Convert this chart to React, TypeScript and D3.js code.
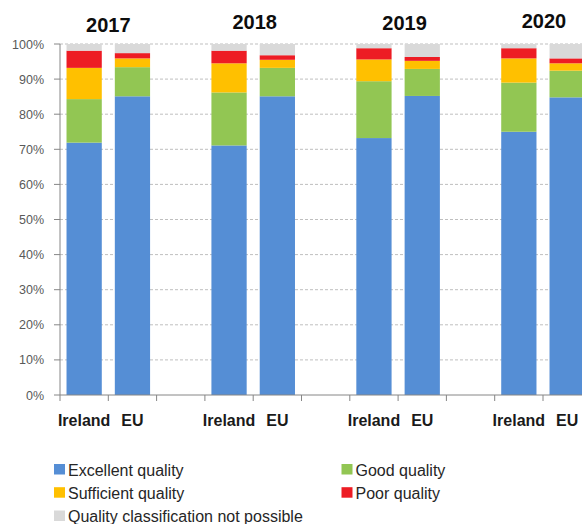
import React from 'react';
import * as d3 from 'd3';

const years = ['2017', '2018', '2019', '2020'];
const groups = ['Ireland', 'EU'];
// order: 2017 Ireland, 2017 EU, 2018 Ireland, 2018 EU, ...
const excellent = [71.9, 85.1, 71.1, 85.1, 73.2, 85.2, 75.0, 84.8];
const good = [12.4, 8.3, 15.1, 8.1, 16.2, 7.7, 14.0, 7.6];
const sufficient = [8.9, 2.5, 8.3, 2.3, 6.2, 2.3, 6.9, 2.1];
const poor = [4.9, 1.5, 3.6, 1.3, 3.2, 1.1, 2.9, 1.4];
const notPossible = [1.9, 2.6, 1.9, 3.2, 1.2, 3.7, 1.2, 4.1];

const seriesNames = ['Excellent quality', 'Good quality', 'Sufficient quality', 'Poor quality', 'Quality classification not possible'];
const seriesKeys = ['excellent', 'good', 'sufficient', 'poor', 'notPossible'];
const seriesColors = ['#558ED5', '#92C653', '#FFC000', '#ED1C24', '#D9D9D9'];
const yTicks = [0, 10, 20, 30, 40, 50, 60, 70, 80, 90, 100];

const W = 582;
const H = 524;
const x0 = 60;
const step = 48.3;
const nCats = 11;
const yBottom = 395;
const yTop = 44;

export default function App() {
  // categories: Ireland, EU, gap, Ireland, EU, gap, ...
  const cats: string[] = [];
  years.forEach((y, i) => {
    groups.forEach((g) => cats.push(`${y}|${g}`));
    if (i < years.length - 1) cats.push(`gap${i}`);
  });

  const rows = years.flatMap((y, yi) =>
    groups.map((g, gi) => {
      const idx = yi * 2 + gi;
      return {
        key: `${y}|${g}`,
        group: g,
        excellent: excellent[idx],
        good: good[idx],
        sufficient: sufficient[idx],
        poor: poor[idx],
        notPossible: notPossible[idx],
      };
    })
  );

  const x = d3
    .scaleBand<string>()
    .domain(cats)
    .range([x0, x0 + step * nCats])
    .paddingInner(0.27)
    .paddingOuter(0.135);
  const y = d3.scaleLinear().domain([0, 100]).range([yBottom, yTop]);

  const stacked = d3.stack<any>().keys(seriesKeys)(rows);

  const boundaries = d3.range(nCats + 1).map((i) => x0 + i * x.step());

  const titleDx = [0, 1.5, 6.5, 1];
  const titleY = [32, 28.5, 30, 28];

  const legendItems = [
    { i: 0, col: 0, row: 0 },
    { i: 1, col: 1, row: 0 },
    { i: 2, col: 0, row: 1 },
    { i: 3, col: 1, row: 1 },
    { i: 4, col: 0, row: 2 },
  ];
  const legendColX = [54, 341.5];
  const legendRowY = [475.5, 498.7, 522];

  const font = '"Liberation Sans", Arial, sans-serif';

  return (
    <svg width={W} height={H} style={{ position: 'absolute', left: 0, top: 0 }} fontFamily={font}>
      <rect width={W} height={H} fill="#ffffff" />
      {/* gridlines */}
      {yTicks.map((t) =>
        t === 0 ? null : (
          <line key={t} x1={x0} x2={W} y1={y(t)} y2={y(t)} stroke="#BFBFBF" strokeWidth={1} strokeDasharray="3,2" />
        )
      )}
      {/* bars */}
      {stacked.map((s, si) => (
        <g key={s.key} fill={seriesColors[si]}>
          {s.map((d: any) => (
            <rect
              key={d.data.key}
              x={x(d.data.key)}
              width={x.bandwidth()}
              y={y(d[1])}
              height={Math.max(0, y(d[0]) - y(d[1]))}
            />
          ))}
        </g>
      ))}
      {/* y axis */}
      <line x1={x0} x2={x0} y1={yTop} y2={yBottom} stroke="#868686" />
      {yTicks.map((t) => (
        <g key={`yt${t}`}>
          <line x1={x0 - 6} x2={x0} y1={y(t)} y2={y(t)} stroke="#868686" />
          <text x={44} y={y(t) + 4.5} textAnchor="end" fontSize={12.5} fill="#595959">
            {t}%
          </text>
        </g>
      ))}
      {/* x axis */}
      <line x1={x0} x2={W} y1={yBottom} y2={yBottom} stroke="#868686" />
      {boundaries.map((b, i) => (
        <line key={`xt${i}`} x1={b} x2={b} y1={yBottom} y2={yBottom + 6} stroke="#868686" />
      ))}
      {rows.map((r) => (
        <text
          key={`xl${r.key}`}
          x={(x(r.key) as number) + x.bandwidth() / 2}
          y={425.7}
          textAnchor="middle"
          fontSize={16}
          fontWeight="bold"
          fill="#1a1a1a"
        >
          {r.group}
        </text>
      ))}
      {/* year titles */}
      {years.map((yr, i) => {
        const ire = x(`${yr}|Ireland`) as number;
        const eu = x(`${yr}|EU`) as number;
        const cx = (ire + eu + x.bandwidth()) / 2 + titleDx[i];
        return (
          <text key={yr} x={cx} y={titleY[i]} textAnchor="middle" fontSize={20} fontWeight="bold" fill="#0d0d0d">
            {yr}
          </text>
        );
      })}
      {/* legend */}
      {legendItems.map((l) => (
        <g key={`lg${l.i}`}>
          <rect x={legendColX[l.col]} y={legendRowY[l.row] - 11.5} width={11} height={10.5} fill={seriesColors[l.i]} />
          <text x={legendColX[l.col] + 14} y={legendRowY[l.row]} fontSize={16} fill="#262626">
            {seriesNames[l.i]}
          </text>
        </g>
      ))}
    </svg>
  );
}
